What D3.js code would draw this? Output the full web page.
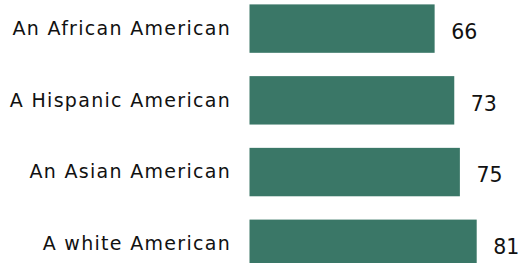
<!DOCTYPE html>
<html>
<head>
<meta charset="utf-8">
<script src="https://cdn.jsdelivr.net/npm/d3@7"></script>
<style>
  body { margin: 0; background: #fff; }
  svg { display: block; font-family: "DejaVu Sans", Verdana, sans-serif; }
</style>
</head>
<body>
<svg width="518" height="263"></svg>
<script>
// categories and values
var groups = ['An African American', 'A Hispanic American', 'An Asian American', 'A white American'];
var scores = [66, 73, 75, 81];

var width = 518, height = 263;
var svg = d3.select('svg');

// x: 0 sits at the left edge of the bars
var x = d3.scaleLinear()
  .domain([0, 100])
  .range([249.5, 530]);

var y = d3.scaleBand()
  .domain(groups)
  .range([-7.3, 279.7])
  .paddingInner(0.325)
  .paddingOuter(0.163);

var rows = svg.selectAll('g.row')
  .data(groups)
  .enter().append('g')
    .attr('class', 'row');

rows.append('rect')
  .attr('x', x(0))
  .attr('y', d => y(d))
  .attr('width', (d, i) => x(scores[i]) - x(0))
  .attr('height', y.bandwidth())
  .attr('fill', '#3a7767');

// category labels (wider face in the original, so spread the letters a bit)
rows.append('text')
  .attr('x', 231)
  .attr('y', d => y(d) + y.bandwidth() / 2)
  .attr('dy', '0.33em')
  .attr('text-anchor', 'end')
  .attr('font-size', '19px')
  .attr('letter-spacing', '1.3px')
  .attr('fill', '#111')
  .text(d => d);

// value labels
rows.append('text')
  .attr('x', (d, i) => x(scores[i]) + 16.5)
  .attr('y', d => y(d) + y.bandwidth() / 2)
  .attr('dy', '0.5em')
  .attr('font-size', '20.5px')
  .attr('fill', '#111')
  .text((d, i) => scores[i]);
</script>
</body>
</html>
